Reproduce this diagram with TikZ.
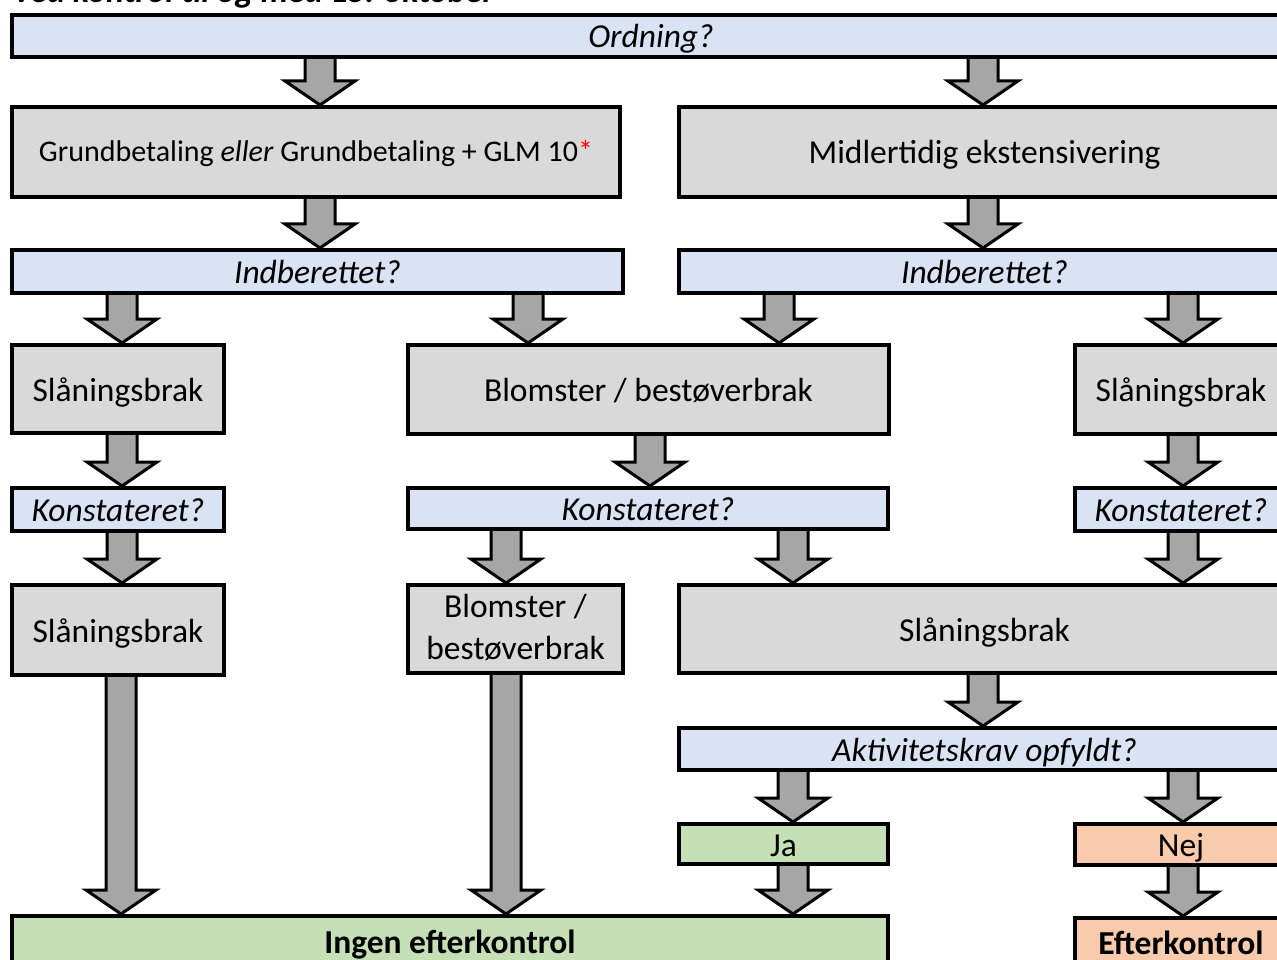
\documentclass[tikz,border=0pt]{standalone}
\usepackage{fontspec}
\setmainfont{Carlito}
\usetikzlibrary{calc}
\definecolor{qblue}{RGB}{218,227,243}
\definecolor{bgray}{RGB}{217,217,217}
\definecolor{okgreen}{RGB}{197,224,180}
\definecolor{noorange}{RGB}{248,203,173}
\definecolor{agray}{RGB}{166,166,166}
\pgfdeclarelayer{back}
\pgfdeclarelayer{bg}
\pgfsetlayers{back,bg,main}
\tikzset{
  box/.style={draw=black, line width=4pt, inner sep=0pt, align=center,
    text height=27pt, text depth=3pt, font=\fontsize{33.5}{40}\selectfont},
  qbox/.style={box, fill=qblue, font=\fontsize{33.5}{40}\selectfont\itshape},
  gbox/.style={box, fill=bgray},
  okbox/.style={box, fill=okgreen},
  nobox/.style={box, fill=noorange},
  barrow/.style={draw=black, line width=3pt, fill=agray, line join=miter},
}
% style, x1, y1, x2, y2, name, text
\newcommand\bx[7]{\node[#1, minimum width={(#4)-(#2)}, minimum height={(#5)-(#3)}] (#6) at ({((#2)+(#4))/2},{((#3)+(#5))/2}) {#7};}
% x, from, to
\newcommand\barr[3]{\begin{pgfonlayer}{bg}\draw[barrow] let \p1=(#2.south), \p2=(#3.north) in
  (#1pt-15pt,\y1+4pt) -- (#1pt-15pt,\y2+24pt) -- (#1pt-35pt,\y2+24pt) -- (#1pt,\y2) --
  (#1pt+35pt,\y2+24pt) -- (#1pt+15pt,\y2+24pt) -- (#1pt+15pt,\y1+4pt) -- cycle;\end{pgfonlayer}}
\begin{document}
\begin{tikzpicture}[x=1pt,y=-1pt]
\useasboundingbox (0,0) rectangle (1277,960);
\begin{pgfonlayer}{back}
\fill[white] (0,0) rectangle (1277,960);
\end{pgfonlayer}
\clip (0,0) rectangle (1277,960);
\node[anchor=base west, inner sep=0pt, font=\fontsize{34}{40}\selectfont\bfseries\itshape] (title) at (12,3) {Ved kontrol til og med 15. oktober};

\bx{qbox}{12}{15}{1290}{57}{ord}{Ordning?}
\bx{gbox, font=\fontsize{30}{36}\selectfont, text height=24pt, text depth=4pt}{12}{107}{620}{197}{grund}{Grundbetaling \textit{eller} Grundbetaling + GLM 10\textcolor{red}{*}}
\bx{gbox}{679}{107}{1290}{197}{midl}{Midlertidig ekstensivering}
\bx{qbox}{12}{250}{623}{293}{indA}{Indberettet?}
\bx{qbox}{679}{250}{1290}{293}{indB}{Indberettet?}
\bx{gbox}{12}{345}{224}{433}{slA}{Slåningsbrak}
\bx{gbox}{408}{345}{889}{434}{blomA}{Blomster / bestøverbrak}
\bx{gbox}{1075}{345}{1287}{434}{slB}{Slåningsbrak}
\bx{qbox}{12}{488}{224}{531}{konA}{Konstateret?}
\bx{qbox}{408}{488}{888}{529}{konB}{Konstateret?}
\bx{qbox}{1075}{488}{1287}{531}{konC}{Konstateret?}
\bx{gbox}{12}{585}{224}{675}{slC}{Slåningsbrak}
\bx{gbox, font=\fontsize{33.5}{42}\selectfont, text height=63pt, text depth=3pt}{408}{585}{623}{673}{blomB}{Blomster /\\bestøverbrak}
\bx{gbox}{679}{585}{1290}{673}{slD}{Slåningsbrak}
\bx{qbox}{679}{728}{1290}{770}{akt}{Aktivitetskrav opfyldt?}
\bx{okbox}{679}{824}{888}{864}{ja}{Ja}
\bx{nobox}{1075}{824}{1287}{865}{nej}{Nej}
\bx{okbox, font=\fontsize{33.5}{40}\selectfont\bfseries}{12}{916}{888}{966}{ingen}{Ingen efterkontrol}
\bx{nobox, font=\fontsize{33.5}{40}\selectfont\bfseries}{1075}{918}{1287}{966}{efter}{Efterkontrol}

\barr{320}{ord}{grund}
\barr{983}{ord}{midl}
\barr{320}{grund}{indA}
\barr{983}{midl}{indB}
\barr{122}{indA}{slA}
\barr{528}{indA}{blomA}
\barr{779}{indB}{blomA}
\barr{1183}{indB}{slB}
\barr{122}{slA}{konA}
\barr{650}{blomA}{konB}
\barr{1183}{slB}{konC}
\barr{122}{konA}{slC}
\barr{506}{konB}{blomB}
\barr{793}{konB}{slD}
\barr{1183}{konC}{slD}
\barr{121}{slC}{ingen}
\barr{506}{blomB}{ingen}
\barr{983}{slD}{akt}
\barr{793}{akt}{ja}
\barr{1183}{akt}{nej}
\barr{793}{ja}{ingen}
\barr{1183}{nej}{efter}
\end{tikzpicture}
\end{document}
